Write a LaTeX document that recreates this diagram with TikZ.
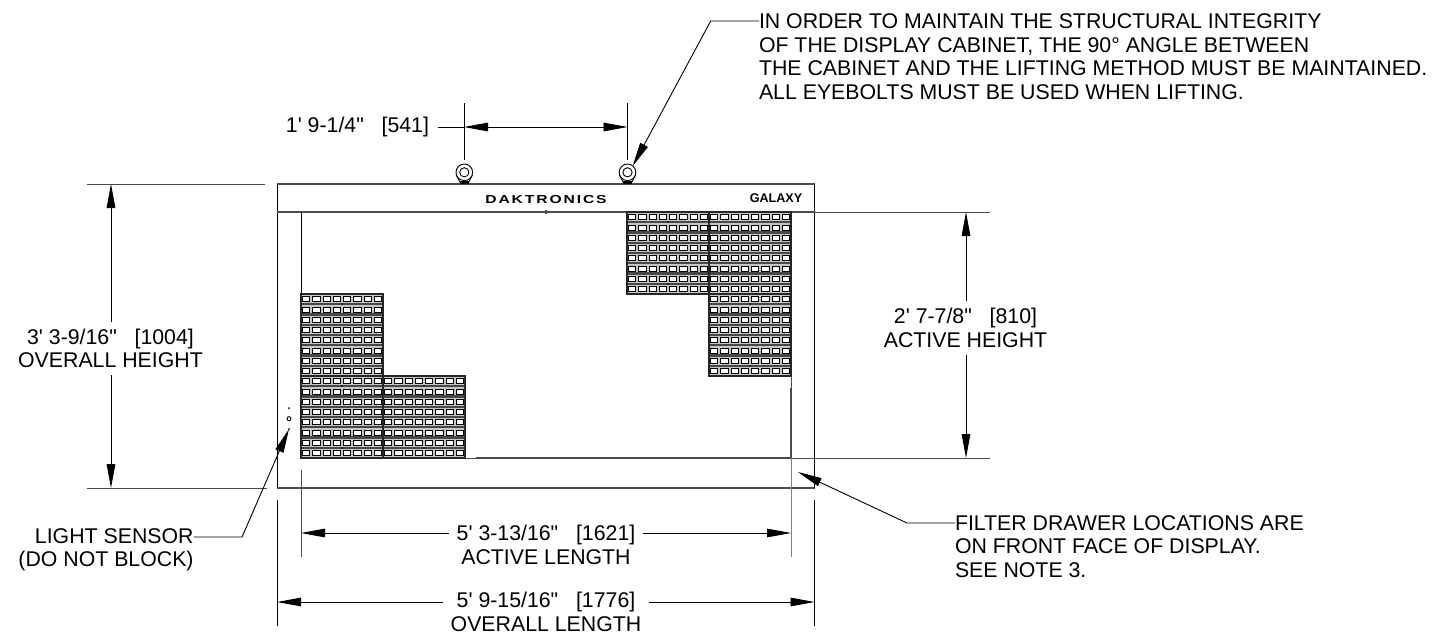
\documentclass[tikz,border=0pt]{standalone}
\usepackage{fontspec}
\usetikzlibrary{arrows.meta}
\newfontfamily\dwgfont{Liberation Sans}
\newfontfamily\dwgbold{Liberation Sans Bold}
\newfontfamily\brandfont{Liberation Sans Bold}[LetterSpace=12]
\definecolor{edgegray}{gray}{0.3}
\definecolor{bandgray}{gray}{0.28}
\newcommand{\ledmodule}[2]{%
  \fill[gray!45] (#1,#2) rectangle ++(82,82);
  \foreach \row in {0,...,7} {
    \draw[ledband] (#1,#2+\row*10.25) -- ++(82,0);
    \foreach \col in {0,...,7} {
      \draw[ledcell] (#1+\col*10.25+1.6,#2+\row*10.25+2.7) rectangle ++(7.2,5);
    }
  }
  \draw[modframe] (#1,#2) rectangle ++(82,82);
  \fill (#1+41,#2+10) circle[radius=0.8];
  \fill (#1+41,#2+72) circle[radius=0.8];
}
\newcommand{\eyebolt}[2]{%
  \draw[thin line,fill=white] (#1-8,#2+3) -- (#1-4.5,#2+9.5) -- (#1+4.5,#2+9.5) -- (#1+8,#2+3) -- cycle;
  \fill[black] (#1-4.6,#2+9) rectangle (#1+4.6,#2+11.8);
  \draw[thin line,fill=white] (#1,#2) circle[radius=8.3];
  \draw[thin line] (#1,#2) circle[radius=4.6];
}

\begin{document}
\begin{tikzpicture}
  [
    x=0.5pt,y=-0.5pt,
    font=\dwgfont\fontsize{10.65}{11.7}\selectfont,
    thin line/.style={line width=0.45pt,black},
    outline/.style={line width=0.6pt,edgegray},
    extline/.style={line width=0.5pt,edgegray},
    ledband/.style={line width=1.2pt,bandgray},
    ledcell/.style={line width=0.4pt,black,fill=white},
    modframe/.style={line width=0.6pt,black!85},
    dimleft/.style={line width=0.45pt,black,{Triangle[length=12pt,width=4.3pt]}-},
    dim/.style={line width=0.45pt,black,{Triangle[length=12pt,width=4.3pt]}-{Triangle[length=12pt,width=4.3pt]}},
    leader/.style={line width=0.45pt,black,{Triangle[length=12pt,width=4.3pt]}-},
    dimlabel/.style={inner sep=0pt,outer sep=3.7pt,align=center},
    note/.style={inner sep=0pt,outer sep=0pt,align=left,anchor=north west},
    sidenote/.style={inner sep=0pt,outer sep=0pt,align=right},
  ]
  \useasboundingbox (0,0) rectangle (1433,633);

  % cabinet
  \draw[outline] (277,184) -- (815,184);
  \draw[outline] (277,488) -- (815,488);
  \draw[thin line] (277,184) -- (277,488);
  \draw[thin line] (814.5,184) -- (814.5,488);
  \draw[outline] (277,212) -- (815,212);
  \draw[thin line] (301,212) -- (301,294);
  \draw[outline] (546,210) -- (546,214);
  \draw[line width=0.7pt,edgegray] (476,458) -- (791,458);
  \draw[line width=0.3pt,edgegray] (465,458) -- (476,458);
  \draw[line width=0.7pt,edgegray] (791,388) -- (791,458);

  % display modules
  \ledmodule{301}{294}
  \ledmodule{301}{376}
  \ledmodule{383}{376}
  \ledmodule{627}{212}
  \ledmodule{709}{212}
  \ledmodule{709}{294}

  % cabinet texts
  \node[inner sep=0pt] (brand) at (546,199) {\brandfont\fontsize{5.8}{6}\selectfont\scalebox{1.35}[1]{DAKTRONICS}};
  \node[inner sep=0pt] (model) at (776,198) {\dwgbold\fontsize{6.3}{7}\selectfont GALAXY};

  % light sensor
  \fill (289,408) circle[radius=1];
  \draw[thin line] (289,418.7) circle[radius=2];
  \fill (289,429) circle[radius=1];

  % eyebolts
  \eyebolt{464.3}{172.3}
  \eyebolt{627.5}{172.3}

  % extension lines
  \coordinate (boltl-top) at (464,103);
  \coordinate (boltl-bot) at (464,160);
  \coordinate (boltr-top) at (627.5,103);
  \coordinate (boltr-bot) at (627.5,160);
  \draw[thin line] (boltl-top) -- (boltl-bot);
  \draw[thin line] (boltr-top) -- (boltr-bot);
  \draw[extline] (87,184) -- (265,184);
  \draw[extline] (87,488) -- (267,488);
  \draw[extline] (803,212) -- (990,212);
  \draw[extline] (791,458) -- (990,458);
  \draw[extline] (301,470) -- (301,557);
  \draw[extline] (791,376) -- (791,388);
  \draw[extline,gray] (791,458) -- (791,557);
  \draw[thin line] (277,500) -- (277,626);
  \draw[thin line] (814.5,500) -- (814.5,626);

  % bolt spacing
  \node[inner sep=0pt,outer sep=4.5pt,anchor=east] (spacing) at (438,127) {1' 9-1/4"\ \ \ [541]};
  \coordinate (spacing-l) at (464,127);
  \coordinate (spacing-r) at (627.5,127);
  \draw[dim] (spacing-l) -- (spacing-r);
  \draw[thin line] (spacing.east) -- (spacing-l);

  % overall height
  \node[dimlabel] (oheight) at (110.5,348.5) {3' 3-9/16"\ \ \ [1004]\\OVERALL HEIGHT};
  \coordinate (oheight-t) at (111,184);
  \coordinate (oheight-b) at (111,488);
  \draw[dimleft] (oheight-t) -- (oheight-t |- oheight.north);
  \draw[dimleft] (oheight-b) -- (oheight-b |- oheight.south);

  % active height
  \node[dimlabel] (aheight) at (965.5,328) {2' 7-7/8"\ \ \ [810]\\ACTIVE HEIGHT};
  \coordinate (aheight-t) at (966,212);
  \coordinate (aheight-b) at (966,458);
  \draw[dimleft] (aheight-t) -- (aheight-t |- aheight.north);
  \draw[dimleft] (aheight-b) -- (aheight-b |- aheight.south);

  % active length
  \node[dimlabel] (alength) at (546,545) {5' 3-13/16"\ \ \ [1621]\\ACTIVE LENGTH};
  \coordinate (alength-l) at (301,533);
  \coordinate (alength-r) at (791,533);
  \draw[dimleft] (alength-l) -- (alength-l -| alength.west);
  \draw[dimleft] (alength-r) -- (alength-r -| alength.east);

  % overall length
  \node[dimlabel] (olength) at (546,612) {5' 9-15/16"\ \ \ [1776]\\OVERALL LENGTH};
  \coordinate (olength-l) at (277,602);
  \coordinate (olength-r) at (814.5,602);
  \draw[dimleft] (olength-l) -- (olength-l -| olength.west);
  \draw[dimleft] (olength-r) -- (olength-r -| olength.east);

  % notes
  \node[note] (liftnote) at (759,14) {IN ORDER TO MAINTAIN THE STRUCTURAL INTEGRITY\\OF THE DISPLAY CABINET, THE 90° ANGLE BETWEEN\\THE CABINET AND THE LIFTING METHOD MUST BE MAINTAINED.\\ALL EYEBOLTS MUST BE USED WHEN LIFTING.};
  \coordinate (liftnote-k) at (710.7,21);
  \coordinate (liftnote-t) at (632.7,166);
  \draw[leader] (liftnote-t) -- (liftnote-k) -- (liftnote-k -| liftnote.west);

  \node[note] (filternote) at (955,515.5) {FILTER DRAWER LOCATIONS ARE\\ON FRONT FACE OF DISPLAY.\\SEE NOTE 3.};
  \coordinate (filternote-k) at (907,523);
  \coordinate (filternote-t) at (798,472);
  \draw[leader] (filternote-t) -- (filternote-k) -- (filternote-k -| filternote.west);

  \node[sidenote] (sensornote) at (106,550) {LIGHT SENSOR\\(DO NOT BLOCK)};
  \coordinate (sensornote-k) at (242,537);
  \coordinate (sensornote-t) at (289,429);
  \draw[leader] (sensornote-t) -- (sensornote-k) -- (sensornote-k -| sensornote.east);
\end{tikzpicture}
\end{document}
